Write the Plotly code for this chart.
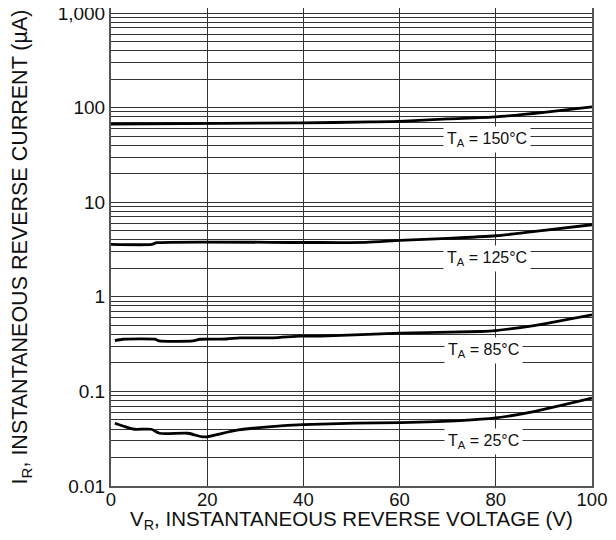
import plotly.graph_objects as go

# ---- data ----
v_150 = [0, 40, 54, 60, 70, 80, 90, 100]
i_150 = [67, 68.9, 70.6, 71.6, 75.9, 79.7, 89.2, 101.7]

v_125 = [0, 8.5, 9.5, 40, 53, 60, 70, 80, 90, 100]
i_125 = [3.58, 3.58, 3.73, 3.75, 3.76, 3.94, 4.14, 4.42, 5.03, 5.78]

v_85 = [0.8, 2.5, 9.1, 10, 17, 18.5, 24, 26.8, 33.7, 39.3, 43.5, 60, 76.8, 80, 87.9, 100]
i_85 = [0.345, 0.356, 0.356, 0.342, 0.342, 0.356, 0.358, 0.368, 0.368, 0.384, 0.384,
        0.413, 0.430, 0.440, 0.497, 0.646]

v_25 = [0.8, 2.9, 4.9, 8.4, 10.1, 16, 18.8, 20.2, 22.3, 26.5, 33.4, 40, 50.8, 60.1, 72.6, 80, 87.9, 100]
i_25 = [0.0461, 0.0424, 0.0398, 0.0398, 0.0361, 0.0361, 0.0332, 0.0332, 0.0352, 0.0391,
        0.0424, 0.0445, 0.0461, 0.0468, 0.0491, 0.0524, 0.0611, 0.0848]

x_ticks = [0, 20, 40, 60, 80, 100]
y_decades = [0.01, 0.1, 1, 10, 100, 1000]
y_decade_labels = ["0.01", "0.1", "1", "10", "100", "1,000"]

series = [
    (v_150, i_150, "T<sub>A</sub> = 150°C", 78.2, 1.66),
    (v_125, i_125, "T<sub>A</sub> = 125°C", 78.2, 0.40),
    (v_85, i_85, "T<sub>A</sub> = 85°C", 77.4, -0.57),
    (v_25, i_25, "T<sub>A</sub> = 25°C", 77.4, -1.53),
]

# minor gridline values (2..9 in each decade)
minor_vals = [d * m for d in y_decades[:-1] for m in range(2, 10)]

FONT = "Liberation Sans, Arial, sans-serif"

fig = go.Figure()
annotations = []
for xs, ys, label, ax, ay in series:
    fig.add_trace(go.Scatter(x=xs, y=ys, mode="lines",
                             line=dict(color="black", width=2.8, shape="spline", smoothing=0.6),
                             showlegend=False, hoverinfo="skip"))
    annotations.append(dict(x=ax, y=ay, xref="x", yref="y", text=label, showarrow=False,
                            bgcolor="white", font=dict(size=16, color="#111", family=FONT),
                            borderpad=3))

# x-axis title placed as an annotation so it sits close under the tick labels
annotations.append(dict(x=0.5, y=-0.071, xref="paper", yref="paper", yanchor="middle",
                        text="V<sub>R</sub>, INSTANTANEOUS REVERSE VOLTAGE (V)", showarrow=False,
                        font=dict(size=20.5, color="#111", family=FONT)))

# the page places the figure 8px in from the top-left, so the figure is sized to fit
fig.update_layout(
    width=608, height=532,
    margin=dict(l=103, r=24, t=0, b=54, autoexpand=False),
    paper_bgcolor="white", plot_bgcolor="white",
    annotations=annotations,
    font=dict(family=FONT, color="#111"),
)
fig.update_xaxes(
    range=[0, 100], tickvals=x_ticks, ticktext=[str(t) for t in x_ticks],
    showgrid=True, gridcolor="#333", gridwidth=1, zeroline=False,
    showline=True, linecolor="#555", linewidth=2, mirror=True,
    ticks="", ticklen=0, tickfont=dict(size=18.5, family=FONT, color="#111"),
    ticklabelstandoff=-4,
    automargin=False, ticklabeloverflow="allow",
)
fig.update_yaxes(
    type="log", range=[-2, 3.053], tickvals=y_decades, ticktext=y_decade_labels,
    showgrid=True, gridcolor="#333", gridwidth=1, zeroline=False,
    minor=dict(tickvals=minor_vals, showgrid=True, gridcolor="#333", gridwidth=1, ticks=""),
    showline=True, linecolor="#555", linewidth=2, mirror=True,
    ticks="", ticklen=0, tickfont=dict(size=19, family=FONT, color="#111"),
    automargin=False, ticklabeloverflow="allow",
    title=dict(text="I<sub>R</sub>, INSTANTANEOUS REVERSE CURRENT (µA)",
               font=dict(size=21.5, family=FONT, color="#111"), standoff=29),
)

fig.write_html("out.html")
